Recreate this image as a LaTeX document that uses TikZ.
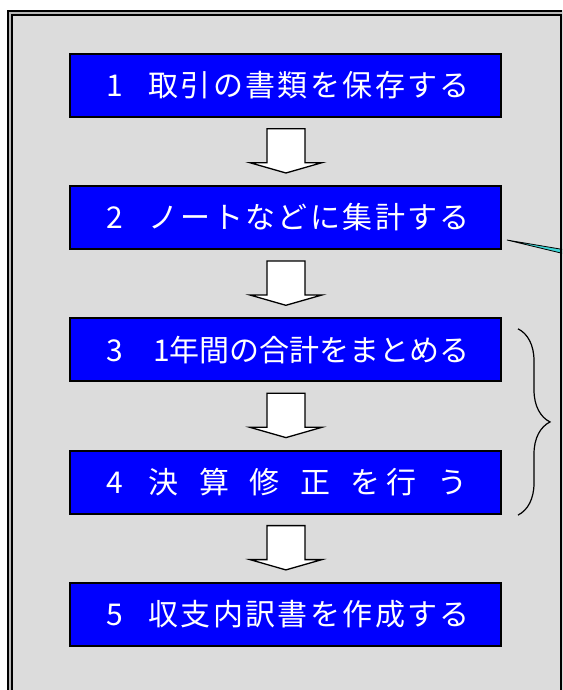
\documentclass[tikz,border=0pt]{standalone}
\usepackage{fontspec}
\newfontfamily\jpfont[LetterSpace=8]{Noto Sans CJK JP}
\usetikzlibrary{positioning,decorations.pathreplacing}
\definecolor{stepblue}{HTML}{0000FF}
\definecolor{panelgray}{HTML}{DCDCDC}
\definecolor{framegray}{HTML}{B8B8B8}
\definecolor{notecyan}{HTML}{3FD6D6}
\tikzset{
  stepbox/.style={draw=black, line width=2pt, fill=stepblue, text=white,
    minimum width=431pt, minimum height=63pt, inner sep=0pt,
    text width=420pt, align=left, font=\jpfont\fontsize{30}{36}\selectfont,
    execute at begin node={\hspace*{30.8pt}}},
  blockarr/.style={draw=black, line width=1.3pt, fill=white, line join=miter},
  bracket/.style={draw=black, line width=1.2pt, decorate,
    decoration={brace, amplitude=32pt}},
  pointer/.style={draw=black, line width=0.8pt, fill=notecyan}
}
% hollow arrow from one step down to the next
\newcommand{\blockarrow}[2]{%
  \draw[blockarr] ([shift={(-19pt,-11pt)}]#1.south) -- ([shift={(19pt,-11pt)}]#1.south)
    -- ([shift={(19pt,-45pt)}]#1.south) -- ([shift={(36pt,-45pt)}]#1.south)
    -- ([yshift=12pt]#2.north) -- ([shift={(-36pt,-45pt)}]#1.south)
    -- ([shift={(-19pt,-45pt)}]#1.south) -- cycle;}
\begin{document}
\begin{tikzpicture}[x=1pt,y=1pt]
  \useasboundingbox (0,0) rectangle (562,-690);
  \clip (0,0) rectangle (562,-690);
  % panel
  \fill[panelgray] (9.8,-13) rectangle (563.5,-700);
  % steps
  \node[stepbox] (book) at (285.9,-85.2) {1\hspace{25pt}取引の書類を保存する};
  \node[stepbox, below=67.3pt of book] (note) {2\hspace{25pt}ノートなどに集計する};
  \node[stepbox, below=67.3pt of note] (total) {3\hspace{30pt}{\addfontfeature{LetterSpace=0}1年間の合計をまとめる}};
  \node[stepbox, below=67.3pt of total] (fix) {4\hspace{25.4pt}決\hspace{20.5pt}算\hspace{20.5pt}修\hspace{20.5pt}正\hspace{20.5pt}を\hspace{6pt}行\hspace{20.5pt}う};
  \node[stepbox, below=67.3pt of fix] (report) {5\hspace{25pt}収支内訳書を作成する};
  % arrows
  \blockarrow{book}{note}
  \blockarrow{note}{total}
  \blockarrow{total}{fix}
  \blockarrow{fix}{report}
  % callout tip
  \coordinate (tip) at ([shift={(4.5pt,10pt)}]note.south east);
  \coordinate (edge) at (563,-251.5);
  \filldraw[pointer] (tip) -- ([yshift=-2pt]edge) -- ([yshift=2pt]edge) -- cycle;
  % frame
  \draw[line width=6.6pt] (9.8,-13) rectangle (563.5,-700);
  \draw[framegray, line width=2.2pt] (9.8,-13) rectangle (563.5,-700);
  % brace
  \draw[bracket] ([shift={(15.6pt,-11.5pt)}]total.north east) -- ([shift={(15.6pt,-0.5pt)}]fix.south east);
\end{tikzpicture}
\end{document}
